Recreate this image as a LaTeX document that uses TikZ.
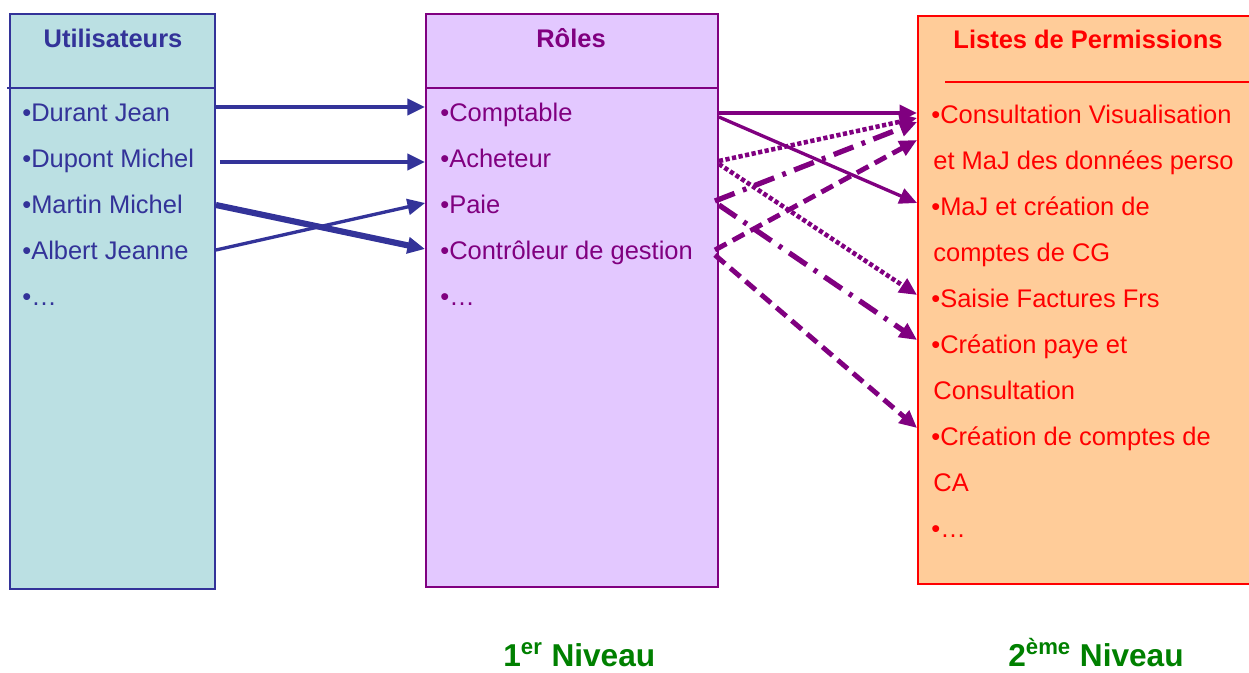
\documentclass[tikz,border=0pt]{standalone}
\usepackage{fontspec}
\setmainfont{Liberation Sans}
\usepackage{xcolor}
\usepackage{tikz}
\usetikzlibrary{arrows.meta,calc}
\definecolor{userblue}{HTML}{333399}
\definecolor{userfill}{HTML}{BBE0E3}
\definecolor{rolepurple}{HTML}{800080}
\definecolor{rolefill}{HTML}{E3C8FF}
\definecolor{permred}{HTML}{FF0000}
\definecolor{permfill}{HTML}{FFCC99}
\definecolor{levelgreen}{HTML}{008000}
\tikzset{
	userbox/.style={rectangle, draw=userblue, fill=userfill, line width=1.1pt, minimum width=4.1cm, minimum height=11.5cm},
	rolebox/.style={rectangle, draw=rolepurple, fill=rolefill, line width=1.1pt, minimum width=5.84cm, minimum height=11.46cm},
	permbox/.style={rectangle, draw=permred, fill=permfill, line width=1.1pt, minimum width=7.64cm, minimum height=11.36cm}
}
\tikzset{
	item/.style={anchor=west, inner sep=0pt, text height=10pt, text depth=0pt, font=\fontsize{14.5}{17}\selectfont},
	head/.style={anchor=base, inner sep=0pt, font=\fontsize{14.5}{17}\selectfont\bfseries},
	level/.style={anchor=base west, inner sep=0pt, text=levelgreen, font=\fontsize{18}{21}\selectfont\bfseries},
	userarrow/.style={draw=userblue, -{Triangle[length=10pt, width=9pt]}},
	rolearrow/.style={draw=rolepurple, -{Triangle[length=10pt, width=9pt]}},
	mydotted/.style={dash pattern=on 2.4pt off 1.4pt},
	mydashdot/.style={dash pattern=on 12pt off 5pt on 2.2pt off 5pt},
	mydashed/.style={dash pattern=on 7.5pt off 4pt}
}

\begin{document}
\begin{tikzpicture}[x=0.02cm, y=-0.02cm]
		\useasboundingbox (0,0) rectangle (1249,673);
		
		%Boxes
		\node[userbox] at (112.5,301.5) (users) {};
		\node[rolebox] at (572,300.5) (roles) {};
		\node[permbox] at (1109,300) (perm) {};
		\draw[userblue, line width=0.9pt] (7,88) -- (users.east |- 0,88);
		\draw[rolepurple, line width=0.9pt] (roles.west |- 0,88) -- (roles.east |- 0,88);
		\draw[permred, line width=0.9pt] (945,82) -- (1262,82);
		
		%Titles
		\node[head, text=userblue] at (113,47) (usertitle) {Utilisateurs};
		\node[head, text=rolepurple] at (571,47) (roletitle) {Rôles};
		\node[head, text=permred] at (1088,48) (permtitle) {Listes de Permissions};
		
		%Utilisateurs
		\node[item, text=userblue] at (22,113) (durant) {•Durant Jean};
		\node[item, text=userblue] at (22,159) (dupont) {•Dupont Michel};
		\node[item, text=userblue] at (22,205) (martin) {•Martin Michel};
		\node[item, text=userblue] at (22,251) (albert) {•Albert Jeanne};
		\node[item, text=userblue] at (22,297) (udots) {•…};
		
		%Roles
		\node[item, text=rolepurple] at (440,113) (comptable) {•Comptable};
		\node[item, text=rolepurple] at (440,159) (acheteur) {•Acheteur};
		\node[item, text=rolepurple] at (440,205) (paie) {•Paie};
		\node[item, text=rolepurple] at (440,251) (controleur) {•Contrôleur de gestion};
		\node[item, text=rolepurple] at (440,297) (rdots) {•…};
		
		%Permissions
		\node[item, text=permred] at (931,115) (consult) {•Consultation Visualisation};
		\node[item, text=permred] at (933,161) (consult2) {et MaJ des données perso};
		\node[item, text=permred] at (931,207) (majcg) {•MaJ et création de};
		\node[item, text=permred] at (933,253) (majcg2) {comptes de CG};
		\node[item, text=permred] at (931,299) (saisie) {•Saisie Factures Frs};
		\node[item, text=permred] at (931,345) (paye) {•Création paye et};
		\node[item, text=permred] at (933,391) (paye2) {Consultation};
		\node[item, text=permred] at (931,437) (creaca) {•Création de comptes de};
		\node[item, text=permred] at (933,483) (creaca2) {CA};
		\node[item, text=permred] at (931,529) (pdots) {•…};
		
		%Levels
		\node[level] at (503,666) (level1) {1\textsuperscript{er} Niveau};
		\node[level] at (1008,666) (level2) {2\textsuperscript{ème} Niveau};
		
		%Lines
		\draw[userarrow, line width=2.5pt] ($(users.east |- durant)+(0,-6)$) -- ($(roles.west |- comptable)+(0,-6)$);
		\draw[userarrow, line width=2.5pt] ($(users.east |- dupont)+(4,3)$) -- ($(roles.west |- acheteur)+(0,3)$);
		\draw[userarrow, line width=3.5pt] (users.east |- martin) -- ($(roles.west |- controleur)+(0,-2)$);
		\draw[userarrow, line width=1.9pt] ($(users.east |- albert)+(0,-1)$) -- ($(roles.west |- paie)+(0,-2)$);
		
		\draw[rolearrow, line width=2.7pt] (roles.east |- comptable) -- ($(perm.west |- consult)+(0,-2)$);
		\draw[rolearrow, line width=1.9pt] ($(roles.east |- comptable)+(0,4)$) -- ($(perm.west |- majcg)+(0,-4)$);
		\draw[rolearrow, mydotted, line width=2.6pt] ($(roles.east |- acheteur)+(0,2)$) -- ($(perm.west |- consult)+(0,3)$);
		\draw[rolearrow, mydotted, line width=2.6pt] ($(roles.east |- acheteur)+(0,5)$) -- ($(perm.west |- saisie)+(0,-4)$);
		\draw[rolearrow, mydashdot, line width=3pt] ($(roles.east |- paie)+(-4,-4)$) -- ($(perm.west |- consult)+(0,7)$);
		\draw[rolearrow, mydashdot, line width=3pt] (roles.east |- paie) -- ($(perm.west |- paye)+(0,-5)$);
		\draw[rolearrow, mydashed, line width=2.8pt] ($(roles.east |- controleur)+(-4,-1)$) -- ($(perm.west |- consult)+(0,25)$);
		\draw[rolearrow, mydashed, line width=2.8pt] ($(roles.east |- controleur)+(-4,4)$) -- ($(perm.west |- creaca)+(0,-9)$);
		
	\end{tikzpicture}
\end{document}
